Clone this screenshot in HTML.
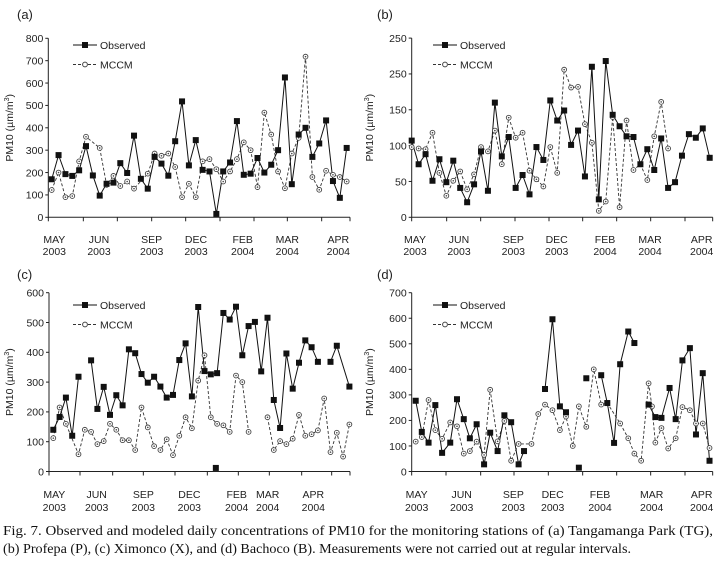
<!DOCTYPE html>
<html><head><meta charset="utf-8">
<style>
html,body{margin:0;padding:0;background:#fff;}
svg{display:block;}
text{font-family:"Liberation Sans",sans-serif;fill:#222;}
.cap{font-family:"Liberation Serif",serif;font-size:13.5px;fill:#111;}
</style></head>
<body>
<svg id="fig" width="719" height="563" viewBox="0 0 719 563" xmlns="http://www.w3.org/2000/svg">
<text class="cap" x="3" y="535" textLength="710" lengthAdjust="spacingAndGlyphs">Fig. 7. Observed and modeled daily concentrations of PM10 for the monitoring stations of (a) Tangamanga Park (TG),</text>
<text class="cap" x="3" y="553" textLength="628" lengthAdjust="spacingAndGlyphs">(b) Profepa (P), (c) Ximonco (X), and (d) Bachoco (B). Measurements were not carried out at regular intervals.</text>
</svg>
<script>
// ---- data (sample index t, PM10 value v; null breaks a line) ----
const monthLabels = ["MAY","JUN","SEP","DEC","FEB","MAR","APR"];
const yearLabels = ["2003","2003","2003","2003","2004","2004","2004"];

const aObsT = [0,1,2,3,4,5,6,7,8,9,10,11,12,13,14,15,16,17,18,19,20,21,22,23,24,25,26,27,28,29,30,31,32,33,34,35,36,37,38,39,40,41,42,43];
const aObsV = [170,278,193,185,210,318,187,97,150,155,242,198,365,172,128,270,240,186,340,518,232,345,212,205,15,205,245,430,190,195,265,200,235,300,625,148,370,400,270,330,433,162,87,310];
const aModT = [0,1,2,3,4,5,7,8,9,10,11,12,14,15,16,17,18,19,20,21,22,23,24,25,26,27,28,29,30,31,32,33,34,35,36,37,38,39,40,41,42,43];
const aModV = [122,200,90,95,250,360,310,145,185,140,160,128,195,285,275,285,225,90,150,90,250,260,215,160,205,260,335,300,135,468,370,205,130,285,355,718,180,123,208,190,180,160];
const aTicks = ["0","100","200","300","400","500","600","700","800"];
const aTickVals = [0,100,200,300,400,500,600,700,800];

const bObsT = [0,1,2,3,4,5,6,7,8,9,10,11,12,13,14,15,16,17,18,19,20,21,22,23,24,25,26,27,28,29,30,31,32,33,34,35,36,37,38,39,40,41,42,43];
const bObsV = [107,74,88,51,81,49,79,41,21,46,92,37,160,85,112,41,59,32,98,80,163,135,149,101,121,57,210,25,218,143,127,113,112,74,95,66,110,41,49,86,116,111,124,83];
const bModT = [0,1,2,3,4,5,6,7,8,9,10,11,12,13,14,15,16,17,18,19,20,21,22,23,24,25,26,27,28,29,30,31,32,33,34,35,36,37];
const bModV = [98,96,95,118,62,30,51,64,39,60,98,92,121,74,139,111,118,65,53,43,98,62,206,181,182,130,104,9,22,140,14,135,66,74,52,113,161,96];
const bTicks = ["0","50","100","150","250","250"];
const bTickVals = [0,50,100,150,200,250];

const cObsT = [0,1,2,3,4,null,6,7,8,9,10,11,12,13,14,15,16,17,18,19,20,21,22,23,24,25,26,27,28,29,30,31,32,33,34,35,36,37,38,39,40,41,42,null,44,45,47];
const cObsV = [140,183,248,120,318,null,373,210,284,190,256,222,410,397,327,298,318,285,248,257,374,430,252,552,337,326,330,532,510,553,390,488,502,336,516,240,146,396,278,365,440,417,368,null,368,422,285];
const cIsoT = [25.8];
const cIsoV = [12];
const cModT = [0,1,2,4,5,6,7,8,9,10,11,12,13,14,15,16,17,18,19,20,21,22,23,24,25,26,27,28,29,30,31,null,34,35,36,37,38,39,40,41,42,43,44,45,46,47];
const cModV = [112,215,160,58,140,133,92,102,160,140,105,105,72,215,148,85,72,108,55,120,182,145,305,390,182,160,155,133,322,300,133,null,182,72,102,92,110,190,120,125,138,245,65,130,50,158];
const cTicks = ["0","100","200","300","400","500","600"];
const cTickVals = [0,100,200,300,400,500,600];

const dObsT = [0,0.9,1.9,2.9,3.9,5.1,6.1,7.1,8,9,10.1,11,12.1,13.1,14.1,15.2,16,null,19.1,20.2,21.3,22.2,null,24.1,null,25.2,null,27.4,28.3,29.3,30.2,31.4,32.3,null,34.4,35.4,36.3,37.5,38.4,39.4,40.5,41.4,42.4,43.4];
const dObsV = [277,155,113,260,73,113,283,205,130,185,28,152,80,220,193,28,80,null,323,596,255,232,null,15,null,365,null,377,268,112,420,548,503,null,262,213,210,327,205,435,483,145,385,42];
const dModT = [0,0.9,1.9,2.9,3.9,5.1,6.1,7.1,8,9,10.1,11,12.1,13.1,14.1,15.2,17.1,18.1,19.1,20.2,21.3,22.2,23.2,24.1,25.2,26.3,27.4,28.3,30.2,31.4,32.3,33.3,34.4,34.9,35.4,36.3,37.3,38.4,39.4,40.5,41.4,42.4,43.4];
const dModV = [117,135,280,162,128,192,177,70,80,117,65,320,118,198,42,108,108,225,262,240,162,215,100,255,175,400,262,268,188,130,70,42,345,255,113,170,90,130,252,240,188,188,92];
const dTicks = ["0","100","200","300","400","500","600","700"];
const dTickVals = [0,100,200,300,400,500,600,700];

// ---- layout ----
const NS = "http://www.w3.org/2000/svg";
const svg = document.getElementById("fig");
function mk(tag, attrs, parent){
  const e = document.createElementNS(NS, tag);
  for (const k in attrs) e.setAttribute(k, attrs[k]);
  (parent||svg).appendChild(e);
  return e;
}
const panels = [
  {id:"a", lab:"(a)", ox:0, oy:0, xL:48.3, xR:350, y0:217.3, yT:38.3, ymax:800, t0:51.7, st:6.86,
   ticks:aTicks, tv:aTickVals, oT:aObsT, oV:aObsV, mT:aModT, mV:aModV, iT:[], iV:[],
   xt:[145,250,352,455,557,660,762,862,965,1050], mc:[163,297,455,588,728,862,1015], my:239, yy:251},
  {id:"b", lab:"(b)", ox:360, oy:0, xL:411.7, xR:712.7, y0:217.3, yT:38.1, ymax:250, t0:411.7, st:6.93,
   ticks:bTicks, tv:bTickVals, oT:bObsT, oV:bObsV, mT:bModT, mV:bModV, iT:[], iV:[],
   xt:[155,260,362,465,567,668,770,872,975,1058], mc:[165,297,460,590,735,870,1025], my:239, yy:251},
  {id:"c", lab:"(c)", ox:0, oy:260, xL:49, xR:350, y0:471.5, yT:292.7, ymax:600, t0:53.3, st:6.3,
   ticks:cTicks, tv:cTickVals, oT:cObsT, oV:cObsV, mT:cModT, mV:cModV, iT:cIsoT, iV:cIsoV,
   xt:[147,240,338,430,525,622,715,808,905,995,1050], mc:[163,290,430,568,710,803,940], my:494, yy:507},
  {id:"d", lab:"(d)", ox:360, oy:260, xL:411.7, xR:712.7, y0:471.5, yT:292.7, ymax:700, t0:415.7, st:6.77,
   ticks:dTicks, tv:dTickVals, oT:dObsT, oV:dObsV, mT:dModT, mV:dModV, iT:[], iV:[],
   xt:[155,258,362,462,565,668,770,872,975,1058], mc:[170,305,460,578,720,875,1025], my:494, yy:507}
];

function segs(T, V, xs, ys){
  const out=[]; let cur=[];
  for (let i=0;i<T.length;i++){
    if (V[i]===null || T[i]===null){ if(cur.length) out.push(cur); cur=[]; continue; }
    cur.push([xs(T[i]), ys(V[i])]);
  }
  if (cur.length) out.push(cur);
  return out;
}

panels.forEach(p=>{
  const g = mk("g",{});
  
  
  const xs = t => p.t0 + t*p.st;
  const ys = v => p.y0 - v/p.ymax*(p.y0-p.yT);
  const pl = mk("text",{x:p.ox+17,y:p.oy+19,"font-size":"13"},g);
  pl.textContent = p.lab;
  
  
  const xa = mk("line",{x1:p.xL,y1:p.y0,x2:p.xR,y2:p.y0,stroke:"#222","stroke-width":"1"},g);
  
  
  const ya = mk("line",{x1:p.xL,y1:p.y0,x2:p.xL,y2:p.yT,stroke:"#222","stroke-width":"1"},g);
  
  
  p.tv.forEach((v,i)=>{
    const y = ys(v);
    mk("line",{x1:p.xL-3,y1:y,x2:p.xL,y2:y,stroke:"#222"},g);
    const t = mk("text",{x:p.xL-5,y:y+3.8,"font-size":"10.5","text-anchor":"end"},g);
    t.textContent = p.ticks[i];
    
    
  });
  p.xt.forEach(z=>{
    const x = p.ox + z/3;
    mk("line",{x1:x,y1:p.y0,x2:x,y2:p.y0+4,stroke:"#222"},g);
  });
  p.mc.forEach((z,i)=>{
    const x = p.ox + z/3;
    const m = mk("text",{x:x,y:p.my+4,"font-size":"10.5","text-anchor":"middle"},g);
    m.textContent = monthLabels[i];
    
    
    const yv = mk("text",{x:x,y:p.yy+4,"font-size":"10.5","text-anchor":"middle"},g);
    yv.textContent = yearLabels[i];
    
    
  });
  const cy = (p.y0+p.yT)/2;
  const yt = mk("text",{x:0,y:0,"font-size":"10.5","text-anchor":"middle",transform:`translate(${p.ox+13},${cy}) rotate(-90)`},g);
  yt.innerHTML = 'PM10 (µm/m<tspan font-size="7" dy="-4">3</tspan><tspan dy="4">)</tspan>';
  
  
  segs(p.mT,p.mV,xs,ys).forEach(s=>{
    const l = mk("polyline",{points:s.map(q=>q.join(",")).join(" "),fill:"none",stroke:"#333","stroke-width":"0.9","stroke-dasharray":"3,2"},g);
    
    
  });
  segs(p.oT,p.oV,xs,ys).forEach(s=>{
    const l = mk("polyline",{points:s.map(q=>q.join(",")).join(" "),fill:"none",stroke:"#111","stroke-width":"1"},g);
    
    
  });
  p.mT.forEach((t,i)=>{
    if (t===null||p.mV[i]===null) return;
    const c = mk("circle",{cx:xs(t),cy:ys(p.mV[i]),r:2.4,fill:"#fff",stroke:"#444","stroke-width":"0.9"},g);
    
    
    mk("circle",{cx:xs(t),cy:ys(p.mV[i]),r:0.8,fill:"#444"},g);
  });
  const sq = (t,v)=>{
    const r = mk("rect",{x:xs(t)-3,y:ys(v)-3,width:6,height:6,fill:"#111"},g);
    
    
  };
  p.oT.forEach((t,i)=>{ if (t!==null && p.oV[i]!==null) sq(t,p.oV[i]); });
  p.iT.forEach((t,i)=>sq(t,p.iV[i]));
  const lg = mk("g",{},g);
  
  
  const lx = p.ox+73, ly1 = p.oy+45, ly2 = p.oy+64.5;
  mk("line",{x1:lx,y1:ly1,x2:lx+24,y2:ly1,stroke:"#111"},lg);
  mk("rect",{x:lx+9,y:ly1-3,width:6,height:6,fill:"#111"},lg);
  const t1 = mk("text",{x:lx+27,y:ly1+4,"font-size":"10.5"},lg);
  t1.textContent = "Observed";
  
  
  mk("line",{x1:lx,y1:ly2,x2:lx+24,y2:ly2,stroke:"#333","stroke-dasharray":"3,2"},lg);
  mk("circle",{cx:lx+12,cy:ly2,r:2.4,fill:"#fff",stroke:"#444"},lg);
  const t2 = mk("text",{x:lx+27,y:ly2+4,"font-size":"10.5"},lg);
  t2.textContent = "MCCM";
  
  
});
</script>
</body></html>
